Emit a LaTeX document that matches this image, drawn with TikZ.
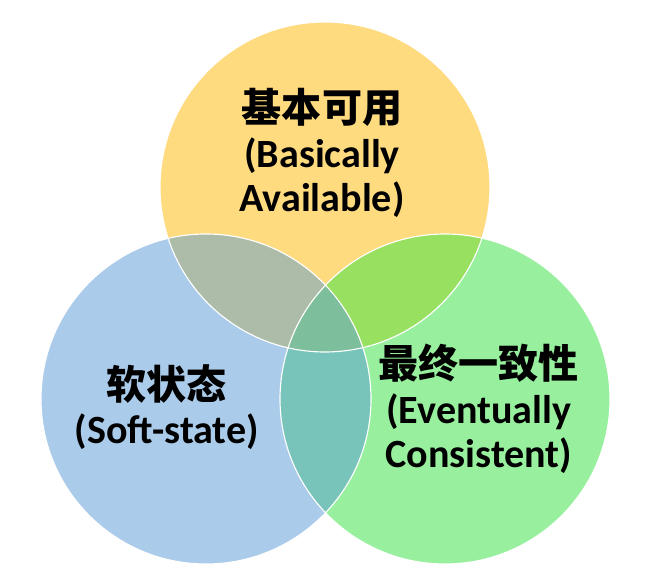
\documentclass[tikz,border=0pt]{standalone}
\usepackage{fontspec}
\setmainfont{Carlito}
\newfontfamily\cjk{Noto Sans CJK SC}
\usepackage{tikz}
\definecolor{SoftYellow}{HTML}{FFDB80}
\definecolor{SoftBlue}{HTML}{ABCBEA}
\definecolor{SoftGreen}{HTML}{98F09E}
\definecolor{MixYB}{HTML}{ADBCA8}
\definecolor{MixYG}{HTML}{98E060}
\definecolor{MixBG}{HTML}{78C4BA}
\definecolor{MixAll}{HTML}{7DBE9C}

\begin{document}
\begin{tikzpicture}[
    label text/.style={align=center, font=\fontsize{28.5}{31.5}\selectfont\bfseries, text=black},
    rim/.style={draw=white, line width=0.8pt}]
    \useasboundingbox (0,0) rectangle (16.225,14.525);
    \coordinate (ctop) at (8.125,9.85);
    \coordinate (cleft) at (5.15,4.55);
    \coordinate (cright) at (11.125,4.55);
    % circles
    \fill[SoftYellow] (ctop) circle (4.125);
    \fill[SoftBlue] (cleft) circle (4.125);
    \fill[SoftGreen] (cright) circle (4.125);
    % overlaps
    \begin{scope}
      \clip (cleft) circle (4.125);
      \fill[MixBG] (cright) circle (4.125);
    \end{scope}
    \begin{scope}
      \clip (ctop) circle (4.125);
      \fill[MixYB] (cleft) circle (4.125);
      \fill[MixYG] (cright) circle (4.125);
      \clip (cleft) circle (4.125);
      \fill[MixAll] (cright) circle (4.125);
    \end{scope}
    \draw[rim] (ctop) circle (4.125);
    \draw[rim] (cleft) circle (4.125);
    \draw[rim] (cright) circle (4.125);

    \node[label text] (basic) at (8.05,10.7) {{\cjk\bfseries 基本可用}\\(Basically\\Available)};
    \node[label text] (soft) at (4.17,4.35) {{\cjk\bfseries 软状态}\\(Soft-state)};
    \node[label text] (eventual) at (11.97,4.3) {{\cjk\bfseries 最终一致性}\\(Eventually\\Consistent)};
\end{tikzpicture}
\end{document}
